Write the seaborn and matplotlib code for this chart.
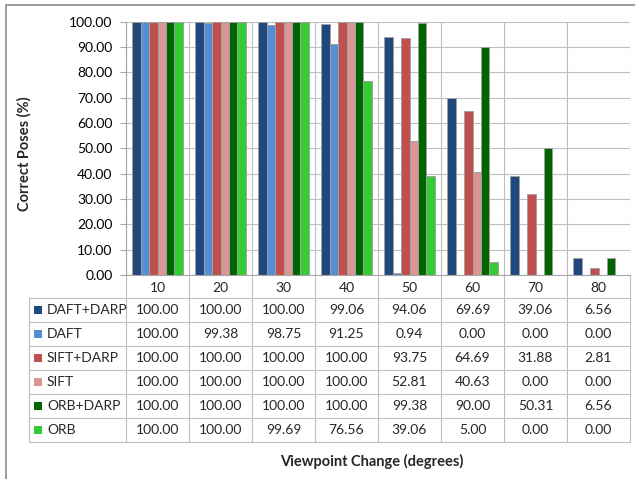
import matplotlib.pyplot as plt
import numpy as np
import pandas as pd
import seaborn as sns
from matplotlib.patches import Rectangle

# Correct poses vs viewpoint change, Excel style column chart with a data table

viewpoints = [10, 20, 30, 40, 50, 60, 70, 80]
methods = ["DAFT+DARP", "DAFT", "SIFT+DARP", "SIFT", "ORB+DARP", "ORB"]
daft_darp = [100.00, 100.00, 100.00, 99.06, 94.06, 69.69, 39.06, 6.56]
daft = [100.00, 99.38, 98.75, 91.25, 0.94, 0.00, 0.00, 0.00]
sift_darp = [100.00, 100.00, 100.00, 100.00, 93.75, 64.69, 31.88, 2.81]
sift = [100.00, 100.00, 100.00, 100.00, 52.81, 40.63, 0.00, 0.00]
orb_darp = [100.00, 100.00, 100.00, 100.00, 99.38, 90.00, 50.31, 6.56]
orb = [100.00, 100.00, 99.69, 76.56, 39.06, 5.00, 0.00, 0.00]
colors = ["#1f497d", "#558ed5", "#c0504d", "#d99694", "#006400", "#33cc33"]

series = [daft_darp, daft, sift_darp, sift, orb_darp, orb]
df = pd.DataFrame({
    "viewpoint": np.tile(viewpoints, len(methods)),
    "method": np.repeat(methods, len(viewpoints)),
    "value": np.concatenate(series),
})

sns.set_theme(style="white")
plt.rcParams["font.family"] = ["Lato", "DejaVu Sans"]

W, H = 635, 479
grid_c = "#bfbfbf"
fig = plt.figure(figsize=(W / 100, H / 100), dpi=100)

# overlay in pixel coordinates for the table and the frame
ov = fig.add_axes([0, 0, 1, 1])
ov.set_xlim(0, W)
ov.set_ylim(H, 0)
ov.axis("off")

left, right, top, bottom = 126, 630, 21.7, 275
ax = fig.add_axes([left / W, 1 - bottom / H, (right - left) / W, (bottom - top) / H])

sns.barplot(data=df, x="viewpoint", y="value", hue="method", palette=colors,
            saturation=1, edgecolor="#a0a0a0", linewidth=0.7, width=0.8,
            errorbar=None, legend=False, ax=ax)

ax.set_xlim(-0.5, len(viewpoints) - 0.5)
ax.set_ylim(0, 100)
ax.set_yticks(np.arange(0, 101, 10))
ax.set_yticklabels([f"{v:.2f}" for v in np.arange(0, 101, 10)])
ax.set_xticks([])
ax.set_xticks(np.arange(-0.5, len(viewpoints)), minor=True)
ax.tick_params(axis="x", which="both", length=0, labelbottom=False)
ax.tick_params(axis="y", left=True, length=4.3, width=0.8, color="#a6a6a6",
               pad=5.5, labelsize=10, labelcolor="black")
ax.grid(axis="y", color=grid_c, linewidth=0.8)
ax.grid(axis="x", which="minor", color=grid_c, linewidth=0.8)
ax.set_axisbelow(True)
for s in ["top", "right"]:
    ax.spines[s].set_visible(False)
for s in ["left", "bottom"]:
    ax.spines[s].set_color("#a6a6a6")
    ax.spines[s].set_linewidth(0.8)
ax.set_xlabel("")
ax.set_ylabel("")

# data table
col_w = (right - left) / len(viewpoints)
row_h = 24
tab_top = 298
tab_left = 29
tab_bottom = tab_top + row_h * len(methods)
for k in range(len(viewpoints) + 1):
    ov.plot([left + col_w * k] * 2, [bottom, tab_bottom], color=grid_c, lw=0.8)
ov.plot([tab_left, tab_left], [tab_top, tab_bottom], color=grid_c, lw=0.8)
for r in range(len(methods) + 1):
    y = tab_top + row_h * r
    ov.plot([tab_left, right], [y, y], color=grid_c, lw=0.8)

for k, vp in enumerate(viewpoints):
    ov.text(left + col_w * (k + 0.5), (bottom + tab_top) / 2 + 1, str(vp),
            ha="center", va="center", fontsize=10)

for r, (name, vals, c) in enumerate(zip(methods, series, colors)):
    yc = tab_top + row_h * (r + 0.5)
    ov.add_patch(Rectangle((34, yc - 4), 8, 8, facecolor=c, edgecolor="none"))
    ov.text(47, yc + 0.5, name, ha="left", va="center", fontsize=10)
    for k, v in enumerate(vals):
        ov.text(left + col_w * (k + 0.5), yc + 0.5, f"{v:.2f}",
                ha="center", va="center", fontsize=10)

# outer chart frame (top and left visible)
ov.plot([6, 6], [4.7, H], color="#8c8c8c", lw=1.2)
ov.plot([6, W], [4.7, 4.7], color="#8c8c8c", lw=1.2)

ov.text(24, 154, "Correct Poses (%)", rotation=90, ha="center", va="center",
        fontsize=10.5, fontweight="bold")
ov.text(372, 461, "Viewpoint Change (degrees)", ha="center", va="center",
        fontsize=10.5, fontweight="bold")

fig.savefig("out.png", dpi=100)
